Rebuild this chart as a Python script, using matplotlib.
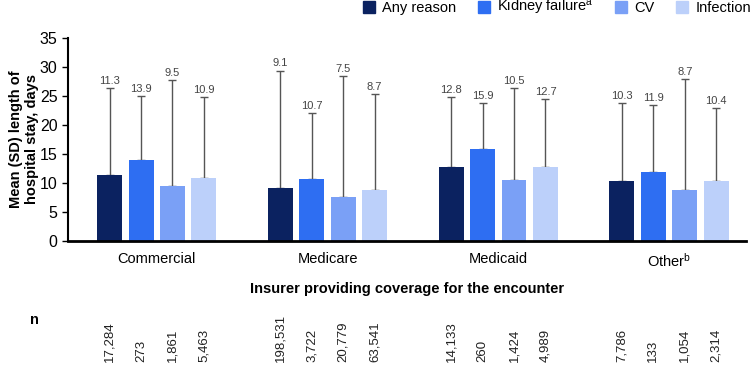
import numpy as np
import matplotlib.pyplot as plt
from matplotlib.patches import Patch
from matplotlib.transforms import blended_transform_factory

plt.rcParams['font.family'] = ['Liberation Sans', 'DejaVu Sans']
plt.rcParams['mathtext.default'] = 'regular'

#-----------------------------------------------------------------------------

groups = ['Commercial', 'Medicare', 'Medicaid', 'Other$^{b}$']
series = ['Any reason', 'Kidney failure$^{a}$', 'CV', 'Infection']
colors = ['#0b2260', '#2e6ef2', '#7aa0f6', '#bcd0fa']

# mean length of stay per insurer, one list per series
any_mean = [11.3, 9.1, 12.8, 10.3]
kidney_mean = [13.9, 10.7, 15.9, 11.9]
cv_mean = [9.5, 7.5, 10.5, 8.7]
inf_mean = [10.9, 8.7, 12.7, 10.4]

# SD (read as top of error bar minus mean)
any_sd = [15.0, 20.3, 12.1, 13.5]
kidney_sd = [11.1, 11.3, 7.9, 11.5]
cv_sd = [18.3, 21.0, 15.8, 19.2]
inf_sd = [14.0, 16.6, 11.7, 12.6]

# n per bar
any_n = ['17,284', '198,531', '14,133', '7,786']
kidney_n = ['273', '3,722', '260', '133']
cv_n = ['1,861', '20,779', '1,424', '1,054']
inf_n = ['5,463', '63,541', '4,989', '2,314']

means = [any_mean, kidney_mean, cv_mean, inf_mean]
sds = [any_sd, kidney_sd, cv_sd, inf_sd]
ns = [any_n, kidney_n, cv_n, inf_n]

#-----------------------------------------------------------------------------

fig = plt.figure(figsize=(7.55, 3.66), dpi=100)
ax = fig.add_axes([0.09, 0.342, 0.898, 0.554])
ax.set_xlim(-0.52, 3.45)
ax.set_ylim(0, 35)

x = np.arange(len(groups))
pitch = 0.184
width = 0.146
ntrans = blended_transform_factory(ax.transData, fig.transFigure)

for i in range(len(series)):
    xs = x + (i - 1.5) * pitch
    ax.bar(xs, means[i], width, color=colors[i], zorder=2)
    ax.errorbar(xs, means[i], yerr=[np.zeros(4), sds[i]], fmt='none',
                ecolor='#555555', elinewidth=1, capsize=3, capthick=1, zorder=1)
    for j in range(len(groups)):
        top = means[i][j] + sds[i][j]
        ax.text(xs[j], top + 0.35, '%.1f' % means[i][j], ha='center', va='bottom',
                fontsize=8, color='#444444')
        # n row below the chart
        ax.text(xs[j], 0.012, ns[i][j], rotation=90, ha='center', va='bottom',
                fontsize=9.5, color='#222222', transform=ntrans, clip_on=False)

fig.text(0.04, 0.125, 'n', fontsize=10.5, fontweight='bold', ha='left', va='center')

ax.set_yticks(range(0, 36, 5))
ax.set_xticks(x)
ax.set_xticklabels(groups, fontsize=10.5)
ax.tick_params(axis='x', length=0, pad=8)
ax.tick_params(axis='y', labelsize=11.5, length=4, width=1)
ax.spines['top'].set_visible(False)
ax.spines['right'].set_visible(False)
ax.spines['left'].set_linewidth(1.5)
ax.spines['bottom'].set_linewidth(2)

ax.set_ylabel('Mean (SD) length of\nhospital stay, days', fontsize=10.5,
              fontweight='bold')
ax.yaxis.set_label_coords(-0.043, 0.5)
ax.set_xlabel('Insurer providing coverage for the encounter', fontsize=10.5,
              fontweight='bold', labelpad=9)

handles = [Patch(color=c) for c in colors]
fig.legend(handles, series, loc='upper right', bbox_to_anchor=(1.012, 1.04), ncol=4,
           frameon=False, fontsize=10.5, handlelength=0.8, handleheight=0.8,
           handletextpad=0.5, columnspacing=1.5)

fig.savefig('out.png', dpi=100)
